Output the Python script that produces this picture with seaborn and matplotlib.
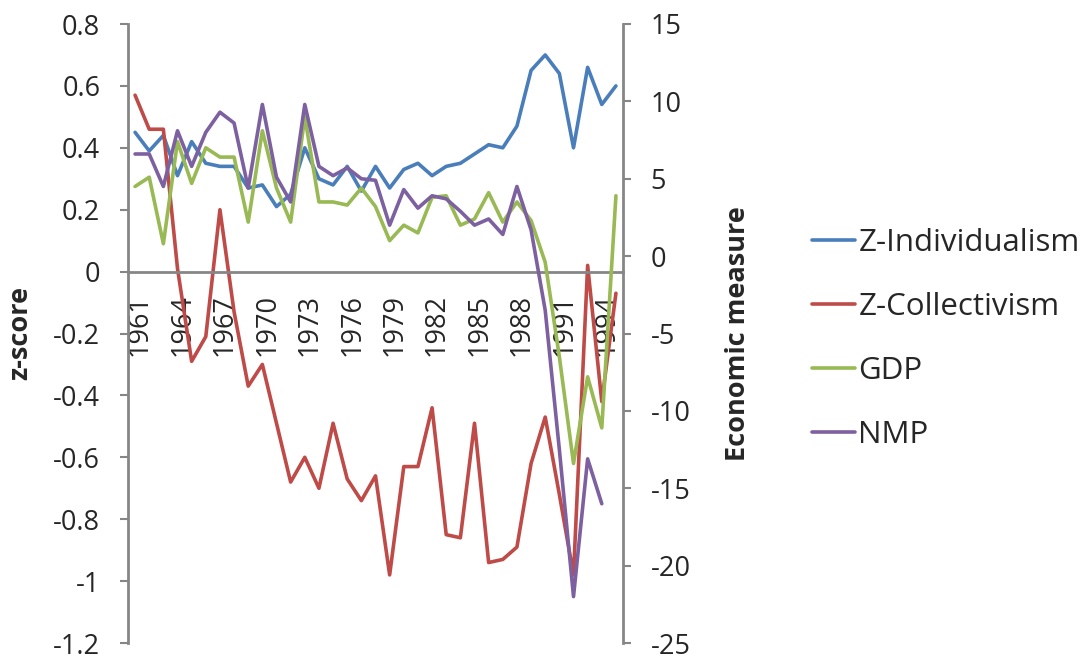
import numpy as np
import matplotlib
matplotlib.use("Agg")
import matplotlib.pyplot as plt
import matplotlib.transforms as mtransforms
import seaborn as sns
import pandas as pd

# data
years = list(range(1961, 1996))
individualism = [0.45, 0.39, 0.44, 0.31, 0.42, 0.35, 0.34, 0.34, 0.27, 0.28,
                 0.21, 0.25, 0.40, 0.30, 0.28, 0.34, 0.26, 0.34, 0.27, 0.33,
                 0.35, 0.31, 0.34, 0.35, 0.38, 0.41, 0.40, 0.47, 0.65, 0.70,
                 0.64, 0.40, 0.66, 0.54, 0.60]
collectivism = [0.57, 0.46, 0.46, 0.01, -0.29, -0.21, 0.20, -0.13, -0.37, -0.30,
                -0.49, -0.68, -0.60, -0.70, -0.49, -0.67, -0.74, -0.66, -0.98, -0.63,
                -0.63, -0.44, -0.85, -0.86, -0.49, -0.94, -0.93, -0.89, -0.62, -0.47,
                -0.72, -0.98, 0.02, -0.42, -0.07]
gdp = [4.5, 5.1, 0.8, 7.4, 4.7, 7.0, 6.4, 6.4, 2.2, 8.1,
       4.4, 2.2, 9.0, 3.5, 3.5, 3.3, 4.4, 3.2, 1.0, 2.0,
       1.5, 3.8, 3.9, 2.0, 2.4, 4.1, 2.2, 3.5, 2.3, -0.4,
       -6.5, -13.4, -7.8, -11.1, 3.9]
nmp = [6.6, 6.6, 4.5, 8.1, 5.8, 8.0, 9.3, 8.6, 4.4, 9.8,
       5.1, 3.5, 9.8, 5.8, 5.2, 5.7, 5.0, 4.9, 2.0, 4.3,
       3.1, 3.9, 3.7, 2.9, 2.0, 2.4, 1.4, 4.5, 1.7, -3.5,
       -12.5, -22.0, -13.1, -16.0, np.nan]
label_years = years[::3]

df = pd.DataFrame({'year': years, 'Z-Individualism': individualism,
                   'Z-Collectivism': collectivism, 'GDP': gdp, 'NMP': nmp})

sns.set_style("white")
plt.rcParams['font.family'] = ['Open Sans', 'DejaVu Sans']
plt.rcParams['axes.unicode_minus'] = False
fs = 19.5
grey = '#868686'

fig = plt.figure(figsize=(10.84, 6.6), dpi=100)
ax = fig.add_axes([128/1084, 17/660, 495/1084, 619/660])
ax2 = ax.twinx()

colors = {'Z-Individualism': '#4A7EBB', 'Z-Collectivism': '#BE4B48',
          'GDP': '#98B954', 'NMP': '#7D60A0'}
for col in ['Z-Individualism', 'Z-Collectivism']:
    sns.lineplot(data=df, x='year', y=col, ax=ax, color=colors[col], lw=2.6, legend=False)
for col in ['GDP', 'NMP']:
    sns.lineplot(data=df, x='year', y=col, ax=ax2, color=colors[col], lw=2.6, legend=False)

ax.set_xlim(1960.5, 1995.5)
ax.set_ylim(-1.2, 0.8)
ax2.set_ylim(-25, 15)

# left axis
yt = np.arange(-1.2, 0.81, 0.2)
ax.set_yticks(yt)
ax.set_yticklabels([f"{round(v, 1) + 0:g}" for v in yt], fontsize=fs)
ax.tick_params(axis='y', length=6, width=1.5, color=grey, pad=14, direction='out')
ax.set_ylabel('z-score', fontsize=fs, fontweight='bold')
ax.yaxis.set_label_coords(-0.192, 0.5)

# right axis
yt2 = np.arange(-25, 16, 5)
ax2.set_yticks(yt2)
ax2.set_yticklabels([str(v) for v in yt2], fontsize=fs)
ax2.tick_params(axis='y', length=6, width=1.5, color=grey, pad=14, direction='out')
ax2.set_ylabel('Economic measure', fontsize=fs, fontweight='bold')
ax2.yaxis.set_label_coords(1.206, 0.5)

# category axis crossing at zero
ax.spines['bottom'].set_position(('data', 0))
ax.set_xticks(label_years)
ax.set_xticklabels([str(y) for y in label_years], rotation=90, fontsize=fs)
ax.set_xticks(np.arange(1960.5, 1996, 1), minor=True)
ax.tick_params(axis='x', which='major', length=0, pad=16)
ax.tick_params(axis='x', which='minor', length=7, width=1.5, color=grey, direction='out')
ax.set_xlabel('')
shift = mtransforms.ScaledTranslation(5/100, 0, fig.dpi_scale_trans)
for t in ax.get_xticklabels():
    t.set_transform(t.get_transform() + shift)

for s in ['top', 'right']:
    ax.spines[s].set_visible(False)
for s in ['top', 'left', 'bottom']:
    ax2.spines[s].set_visible(False)
for a, s in [(ax, 'left'), (ax, 'bottom'), (ax2, 'right')]:
    a.spines[s].set_color(grey)
    a.spines[s].set_linewidth(2)

handles = ax.get_lines() + ax2.get_lines()
labels = ['Z-Individualism', 'Z-Collectivism', 'GDP', 'NMP']
fig.legend(handles, labels, loc='center left', bbox_to_anchor=(784/1084, 1 - 339/660),
           frameon=False, fontsize=22.5, handlelength=1.38, labelspacing=1.08,
           handletextpad=0.1)

fig.savefig('out.png', dpi=100)
